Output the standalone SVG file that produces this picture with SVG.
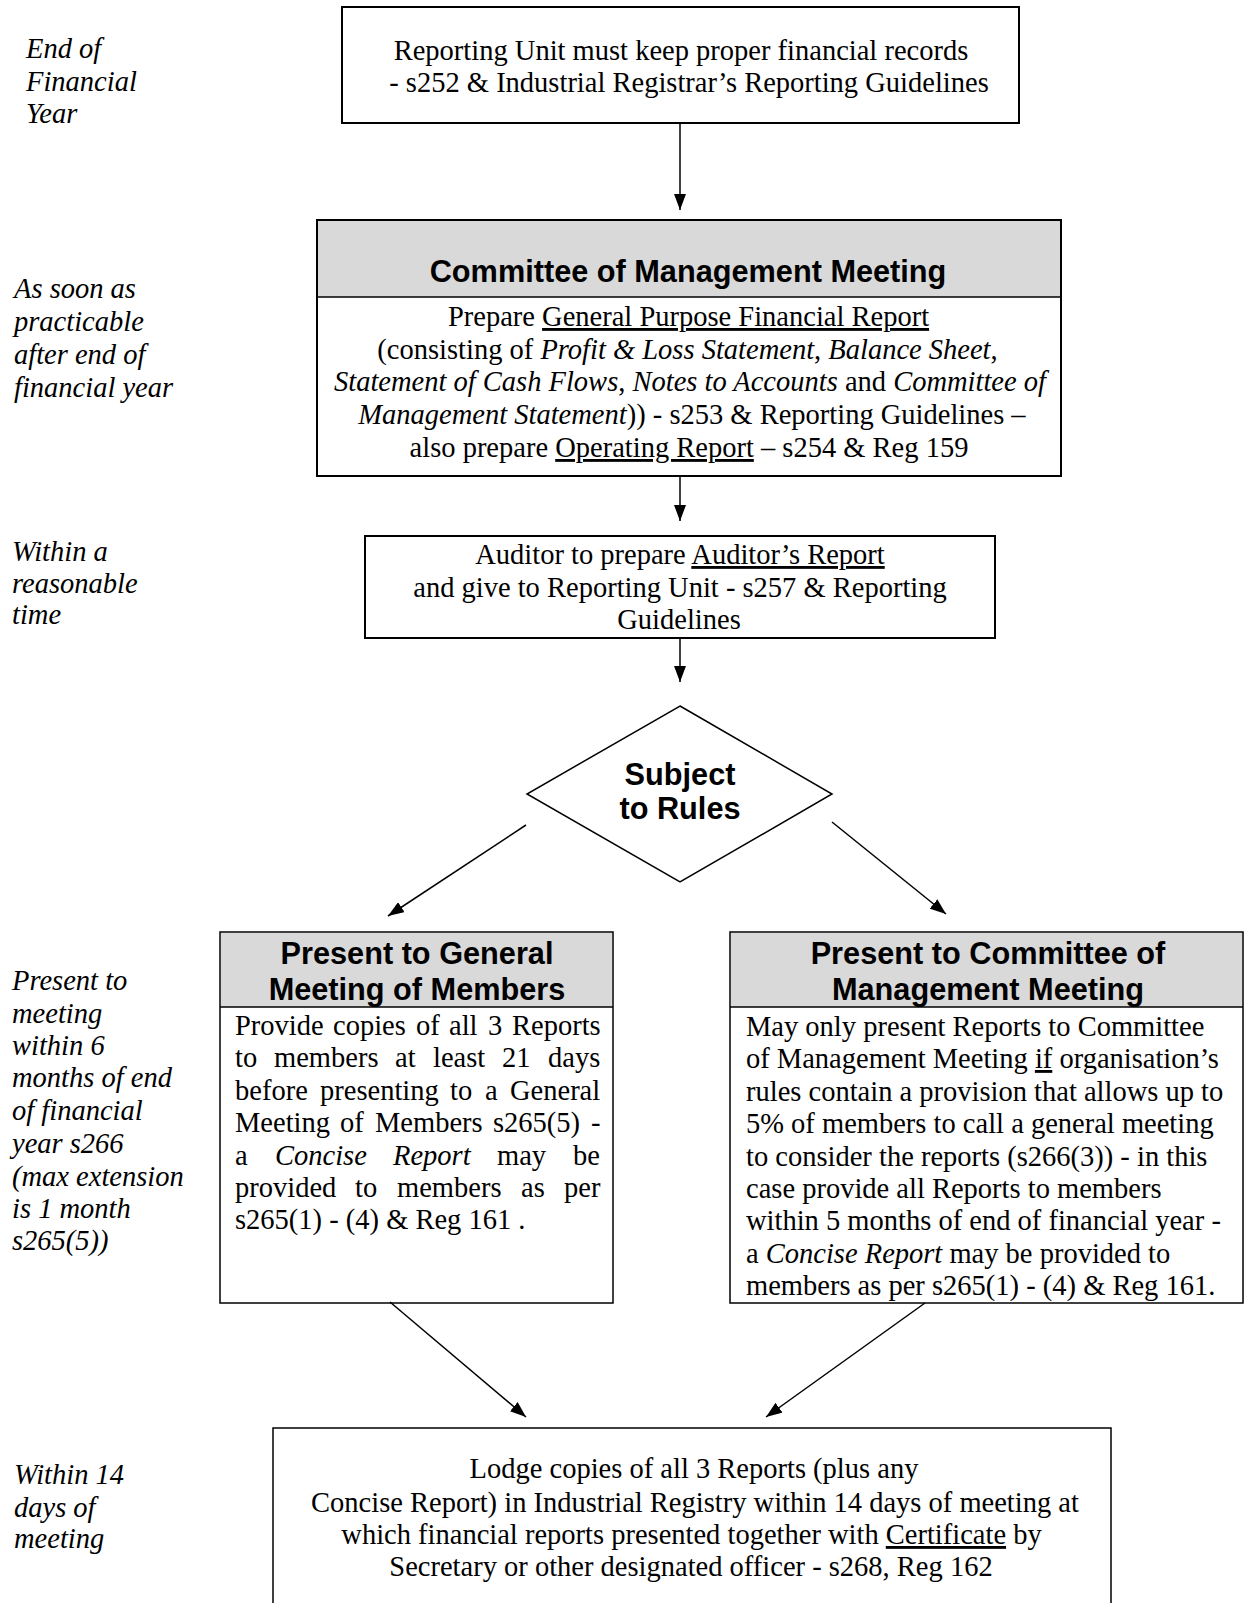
<svg xmlns="http://www.w3.org/2000/svg" width="1245" height="1603" viewBox="0 0 1245 1603">
<style>
.box{fill:#fff;stroke:#000;stroke-width:2}
.thin{fill:#fff;stroke:#000;stroke-width:1.5}
.band{fill:#d9d9d9;stroke:none}
.sep{stroke:#000;stroke-width:1.5}
.t{font-family:"Liberation Serif","Times New Roman",serif;font-size:28.5px;fill:#000}
.c{text-anchor:middle}
.lab{font-family:"Liberation Serif","Times New Roman",serif;font-size:28.5px;font-style:italic;fill:#000}
.h{font-family:"Liberation Sans",Arial,sans-serif;font-size:30.7px;font-weight:bold;fill:#000;text-anchor:middle}
.i{font-style:italic}
.u{text-decoration:underline}
.con{stroke:#000;stroke-width:1.5;fill:none;marker-end:url(#ah)}
</style>
<defs>
<marker id="ah" markerWidth="16" markerHeight="12" refX="16" refY="6" orient="auto" markerUnits="userSpaceOnUse"><path d="M0,0 L16,6 L0,12 z" fill="#000"/></marker>
</defs>
<rect width="1245" height="1603" fill="#fff"/>

<g id="labels">
<text class="lab" x="26" y="58">End of</text>
<text class="lab" x="26" y="91">Financial</text>
<text class="lab" x="26" y="123">Year</text>
<text class="lab" x="14" y="298">As soon as</text>
<text class="lab" x="14" y="331">practicable</text>
<text class="lab" x="14" y="364">after end of</text>
<text class="lab" x="14" y="397">financial year</text>
<text class="lab" x="12" y="561">Within a</text>
<text class="lab" x="12" y="593">reasonable</text>
<text class="lab" x="12" y="624">time</text>
<text class="lab" x="12" y="990">Present to</text>
<text class="lab" x="12" y="1023">meeting</text>
<text class="lab" x="12" y="1055">within 6</text>
<text class="lab" x="12" y="1087">months of end</text>
<text class="lab" x="12" y="1120">of financial</text>
<text class="lab" x="12" y="1153">year s266</text>
<text class="lab" x="12" y="1186">(max extension</text>
<text class="lab" x="12" y="1218">is 1 month</text>
<text class="lab" x="12" y="1250">s265(5))</text>
<text class="lab" x="14" y="1484">Within 14</text>
<text class="lab" x="14" y="1517">days of</text>
<text class="lab" x="14" y="1548">meeting</text>
</g>

<g id="n_records">
<rect class="box" x="342" y="7" width="677" height="116"/>
<text class="t c" x="681" y="60">Reporting Unit must keep proper financial records</text>
<text class="t c" x="689" y="92">- s252 &amp; Industrial Registrar’s Reporting Guidelines</text>
</g>

<g id="n_committee">
<rect class="box" x="317" y="220" width="744" height="256"/>
<rect class="band" x="318" y="221" width="742" height="76"/>
<line class="sep" x1="317" y1="297" x2="1061" y2="297"/>
<text class="h" x="688" y="282">Committee of Management Meeting</text>
<text class="t c" x="688.5" y="326">Prepare <tspan class="u">General Purpose Financial Report</tspan></text>
<text class="t c" x="687.5" y="359">(consisting of <tspan class="i">Profit &amp; Loss Statement</tspan>, <tspan class="i">Balance Sheet</tspan>,</text>
<text class="t c" x="690" y="391"><tspan class="i">Statement of Cash Flows</tspan>, <tspan class="i">Notes to Accounts</tspan> and <tspan class="i">Committee of</tspan></text>
<text class="t c" x="692" y="424"><tspan class="i">Management Statement</tspan>)) - s253 &amp; Reporting Guidelines –</text>
<text class="t c" x="689" y="457">also prepare <tspan class="u">Operating Report</tspan> – s254 &amp; Reg 159</text>
</g>

<g id="n_auditor">
<rect class="box" x="365" y="536" width="630" height="102"/>
<text class="t c" x="680" y="564">Auditor to prepare <tspan class="u">Auditor’s Report</tspan></text>
<text class="t c" x="680" y="597">and give to Reporting Unit - s257 &amp; Reporting</text>
<text class="t c" x="679" y="629">Guidelines</text>
</g>

<g id="n_rules">
<polygon points="680,706 832,794 680,882 527,794" fill="#fff" stroke="#000" stroke-width="1.5"/>
<text class="h" x="680" y="785">Subject</text>
<text class="h" x="680" y="819">to Rules</text>
</g>

<g id="n_general">
<rect class="thin" x="220" y="932" width="393" height="371"/>
<rect class="band" x="221" y="933" width="391" height="74"/>
<line class="sep" x1="220" y1="1007" x2="613" y2="1007"/>
<text class="h" x="417" y="964">Present to General</text>
<text class="h" x="417" y="1000">Meeting of Members</text>
<text class="t" y="1035"><tspan x="235">Provide</tspan><tspan x="333">copies</tspan><tspan x="416">of</tspan><tspan x="449">all</tspan><tspan x="488">3</tspan><tspan x="512">Reports</tspan></text>
<text class="t" y="1067"><tspan x="235">to</tspan><tspan x="274">members</tspan><tspan x="395">at</tspan><tspan x="433">least</tspan><tspan x="502">21</tspan><tspan x="548">days</tspan></text>
<text class="t" y="1100"><tspan x="235">before</tspan><tspan x="320">presenting</tspan><tspan x="450">to</tspan><tspan x="485">a</tspan><tspan x="510">General</tspan></text>
<text class="t" y="1132"><tspan x="235">Meeting</tspan><tspan x="340">of</tspan><tspan x="375">Members</tspan><tspan x="493">s265(5)</tspan><tspan x="591">-</tspan></text>
<text class="t" y="1165"><tspan x="235">a</tspan><tspan x="275" class="i">Concise</tspan><tspan x="393" class="i">Report</tspan><tspan x="497">may</tspan><tspan x="573">be</tspan></text>
<text class="t" y="1197"><tspan x="235">provided</tspan><tspan x="355">to</tspan><tspan x="397">members</tspan><tspan x="521">as</tspan><tspan x="564">per</tspan></text>
<text class="t" x="235" y="1229">s265(1) - (4) &amp; Reg 161 .</text>
</g>

<g id="n_committee2">
<rect class="thin" x="730" y="932" width="513" height="371"/>
<rect class="band" x="731" y="933" width="511" height="74"/>
<line class="sep" x1="730" y1="1007" x2="1243" y2="1007"/>
<text class="h" x="988" y="964">Present to Committee of</text>
<text class="h" x="988" y="1000">Management Meeting</text>
<text class="t" x="746" y="1036">May only present Reports to Committee</text>
<text class="t" x="746" y="1068">of Management Meeting <tspan class="u">if</tspan> organisation’s</text>
<text class="t" x="746" y="1101">rules contain a provision that allows up to</text>
<text class="t" x="746" y="1133">5% of members to call a general meeting</text>
<text class="t" x="746" y="1166">to consider the reports (s266(3)) - in this</text>
<text class="t" x="746" y="1198">case provide all Reports to members</text>
<text class="t" x="746" y="1230">within 5 months of end of financial year -</text>
<text class="t" x="746" y="1263">a <tspan class="i">Concise Report</tspan> may be provided to</text>
<text class="t" x="746" y="1295">members as per s265(1) - (4) &amp; Reg 161.</text>
</g>

<g id="n_lodge">
<rect class="thin" x="273" y="1428" width="838" height="200"/>
<text class="t c" x="694" y="1478">Lodge copies of all 3 Reports (plus any</text>
<text class="t c" x="695" y="1512">Concise Report) in Industrial Registry within 14 days of meeting at</text>
<text class="t c" x="691.5" y="1544">which financial reports presented together with <tspan class="u">Certificate</tspan> by</text>
<text class="t c" x="691" y="1576">Secretary or other designated officer - s268, Reg 162</text>
</g>

<g id="connectors">
<line class="con" x1="680" y1="123" x2="680" y2="210"/>
<line class="con" x1="680" y1="476" x2="680" y2="521"/>
<line class="con" x1="680" y1="638" x2="680" y2="682"/>
<line class="con" x1="526" y1="825" x2="388" y2="916"/>
<line class="con" x1="832" y1="822" x2="946" y2="914"/>
<line class="con" x1="390" y1="1302" x2="526" y2="1417"/>
<line class="con" x1="925" y1="1303" x2="766" y2="1417"/>
</g>
</svg>
